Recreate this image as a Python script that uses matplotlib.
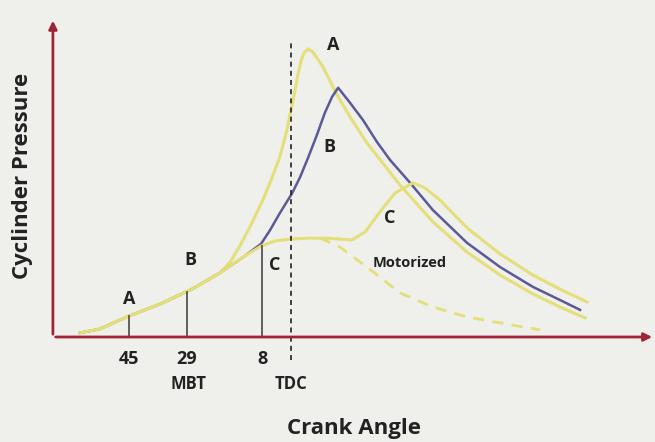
import matplotlib.pyplot as plt
import numpy as np

plt.rcParams['font.family'] = ['Open Sans', 'DejaVu Sans']

# crank angle in degrees (negative = before TDC), pressure in arbitrary units (0-100)
# compression stroke, shared by every curve
comp_angle = [-58.6, -53.1, -45.6, -36.4, -27.5, -19.7, -12.8, -8.3]
comp_press = [1.3, 2.5, 6.3, 10.3, 15.0, 20.1, 25.4, 28.5]

# A - too much advance (45 deg)
a_angle = [-16.9, -14.2, -11.4, -7.8, -5.3, -3.1, -1.1, 0.6, 1.9, 2.8, 3.6, 4.7, 6.1, 8.9, 12.8,
           16.4, 21.1, 30.3, 39.4, 48.9, 58.1, 67.2, 74.7, 81.7]
a_press = [23.5, 28.5, 34.5, 42.9, 49.8, 56.4, 64.9, 74.3, 82.0, 86.5, 89.0, 90.3, 89.3, 84.6, 75.9,
           69.0, 60.8, 47.6, 36.1, 26.6, 19.4, 13.5, 9.4, 6.0]

# B - MBT timing (29 deg)
b_angle = [-8.3, -5.8, -3.1, 0.3, 2.5, 4.7, 7.2, 9.4, 11.4, 13.1, 16.4, 20.0, 23.9, 27.5,
           33.1, 39.4, 48.9, 58.1, 67.2, 74.7, 80.3]
b_press = [29.2, 33.5, 38.8, 45.0, 50.0, 56.0, 63.3, 70.2, 75.2, 78.1, 73.4, 68.0, 61.1, 55.5,
           48.3, 39.8, 29.5, 21.9, 15.7, 11.6, 8.5]

# C - retarded timing (8 deg)
c_angle = [-4.4, 0.0, 5.3, 10.8, 16.9, 20.6, 24.7, 28.9, 33.9, 37.2, 41.4, 48.9, 58.1, 67.2,
           74.7, 82.2]
c_press = [30.1, 30.7, 31.0, 30.9, 30.4, 32.9, 39.2, 45.1, 48.3, 46.7, 42.9, 34.2, 26.0, 19.4,
           15.0, 11.0]

# motorized (no combustion)
mot_angle = [8.1, 13.6, 21.1, 30.3, 39.4, 48.9, 58.1, 69.2]
mot_press = [31.0, 28.2, 21.9, 13.8, 9.4, 6.3, 4.4, 2.2]

tick_angles = [-45, -29, -8]
tick_labels = ['45', '29', '8']

comp_angle = np.array(comp_angle)
comp_press = np.array(comp_press)

yellow = '#e4df78'
navy = '#5b5a96'
axis_red = '#9e2438'
ink = '#222222'

fig = plt.figure(figsize=(6.55, 4.42), dpi=100)
fig.patch.set_facecolor('#efefec')
ax = fig.add_axes([0, 0, 1, 1])
ax.set_facecolor('#efefec')
ax.set_xlim(-80.8, 101.1)
ax.set_ylim(-32.9, 105.6)
ax.axis('off')

# curves
m = comp_angle < a_angle[0]
ax.plot(np.r_[comp_angle[m], a_angle], np.r_[comp_press[m], a_press], color=yellow, lw=2.2)
m = comp_angle <= -12.8
ax.plot(np.r_[comp_angle[m], b_angle], np.r_[comp_press[m], b_press], color=navy, lw=1.8)
ax.plot(np.r_[comp_angle, c_angle], np.r_[comp_press, c_press], color=yellow, lw=2.2)
ax.plot(mot_angle, mot_press, color=yellow, lw=2.0, ls=(0, (4, 3)))

# spark timing markers
for ang, lab in zip(tick_angles, tick_labels):
    top = np.interp(ang, comp_angle, comp_press)
    ax.plot([ang, ang], [0, top], color='#555555', lw=1.3)
    ax.text(ang, -7, lab, ha='center', va='center', fontsize=13, fontweight='bold', color=ink)
ax.text(-45, 12.0, 'A', ha='center', va='center', fontsize=13, fontweight='bold', color=ink)
ax.text(-28, 24.0, 'B', ha='center', va='center', fontsize=13, fontweight='bold', color=ink)
ax.text(-4.4, 22.6, 'C', ha='center', va='center', fontsize=13, fontweight='bold', color=ink)
ax.text(-28.5, -14.6, 'MBT', ha='center', va='center', fontsize=12, fontweight='bold', color=ink)
ax.text(0, -14.6, 'TDC', ha='center', va='center', fontsize=12, fontweight='bold', color=ink)

# TDC line
ax.plot([0, 0], [-7.2, 93.1], color=ink, lw=1.2, ls=(0, (3, 2.5)))

# curve labels
ax.text(11.6, 91.5, 'A', ha='center', va='center', fontsize=13, fontweight='bold', color=ink)
ax.text(10.8, 59.6, 'B', ha='center', va='center', fontsize=13, fontweight='bold', color=ink)
ax.text(27.5, 37.3, 'C', ha='center', va='center', fontsize=13, fontweight='bold', color=ink)
ax.text(33.0, 23.2, 'Motorized', ha='center', va='center', fontsize=10.5, fontweight='bold', color=ink)

# axes with arrows
ax.annotate('', xy=(101.1, 0), xytext=(-66.1, 0),
            arrowprops=dict(arrowstyle='-|>', color=axis_red, lw=2, mutation_scale=12))
ax.annotate('', xy=(-66.1, 100), xytext=(-66.1, 0),
            arrowprops=dict(arrowstyle='-|>', color=axis_red, lw=2, mutation_scale=12))

ax.text(17.5, -28.6, 'Crank Angle', ha='center', va='center', fontsize=16, fontweight='bold', color=ink)
ax.text(-74.5, 50.5, 'Cyclinder Pressure', ha='center', va='center', rotation=90, fontsize=16,
        fontweight='bold', color=ink)

fig.savefig('out.png', dpi=100, facecolor=fig.get_facecolor())
